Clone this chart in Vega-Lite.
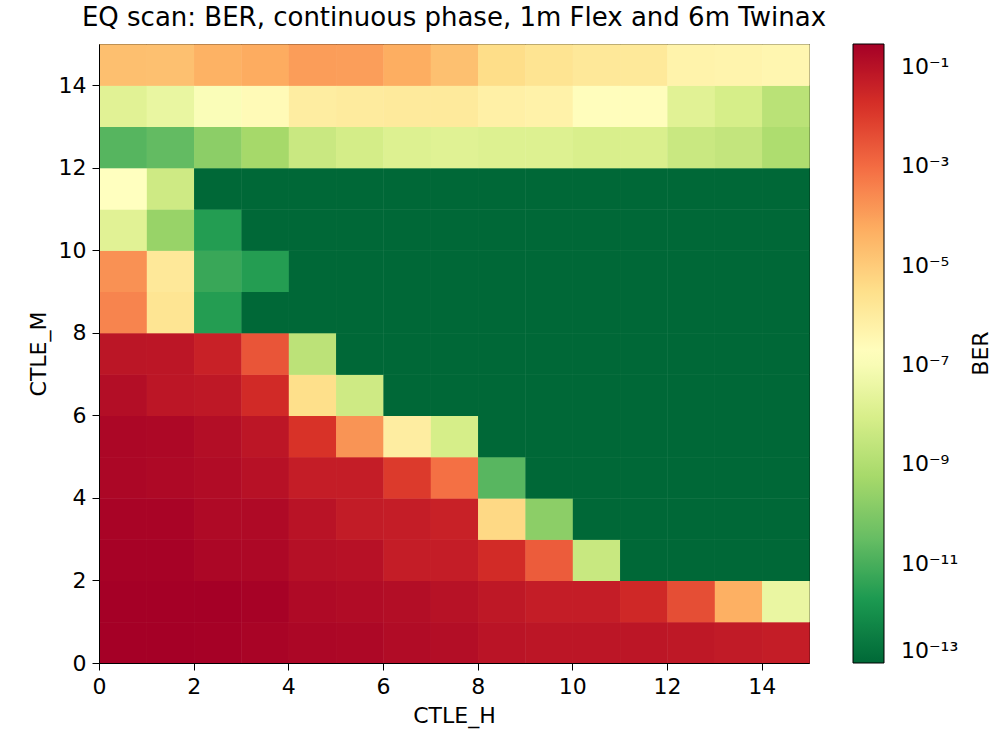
{
  "$schema": "https://vega.github.io/schema/vega-lite/v6.json",
  "width": 710,
  "height": 619,
  "autosize": {"type": "none"},
  "padding": {"left": 99, "top": 44, "right": 195, "bottom": 71},
  "title": {
    "text": "EQ scan: BER, continuous phase, 1m Flex and 6m Twinax",
    "fontSize": 26,
    "font": "DejaVu Sans",
    "fontWeight": "normal",
    "color": "black",
    "baseline": "alphabetic",
    "offset": -8,
    "anchor": "middle"
  },
  "datasets": {
    "cells": [
      {"h":0,"m":0,"ber":0.2884},{"h":1,"m":0,"ber":0.2884},{"h":2,"m":0,"ber":0.2723},{"h":3,"m":0,"ber":0.229},{"h":4,"m":0,"ber":0.1905},{"h":5,"m":0,"ber":0.1778},{"h":6,"m":0,"ber":0.1445},{"h":7,"m":0,"ber":0.1259},{"h":8,"m":0,"ber":0.0871},{"h":9,"m":0,"ber":0.0776},{"h":10,"m":0,"ber":0.0776},{"h":11,"m":0,"ber":0.0776},{"h":12,"m":0,"ber":0.0692},{"h":13,"m":0,"ber":0.0575},{"h":14,"m":0,"ber":0.0501},
      {"h":0,"m":1,"ber":0.2884},{"h":1,"m":1,"ber":0.2884},{"h":2,"m":1,"ber":0.2884},{"h":3,"m":1,"ber":0.257},{"h":4,"m":1,"ber":0.1585},{"h":5,"m":1,"ber":0.1445},{"h":6,"m":1,"ber":0.1259},{"h":7,"m":1,"ber":0.1},{"h":8,"m":1,"ber":0.0692},{"h":9,"m":1,"ber":0.0501},{"h":10,"m":1,"ber":0.0501},{"h":11,"m":1,"ber":0.0263},{"h":12,"m":1,"ber":0.00398},{"h":13,"m":1,"ber":4.68e-5},{"h":14,"m":1,"ber":3.47e-8},
      {"h":0,"m":2,"ber":0.257},{"h":1,"m":2,"ber":0.257},{"h":2,"m":2,"ber":0.1905},{"h":3,"m":2,"ber":0.1778},{"h":4,"m":2,"ber":0.1122},{"h":5,"m":2,"ber":0.1023},{"h":6,"m":2,"ber":0.0501},{"h":7,"m":2,"ber":0.0501},{"h":8,"m":2,"ber":0.0219},{"h":9,"m":2,"ber":0.00209},{"h":10,"m":2,"ber":3.72e-9},{"h":11,"m":2,"ber":1e-13},{"h":12,"m":2,"ber":1e-13},{"h":13,"m":2,"ber":1e-13},{"h":14,"m":2,"ber":1e-13},
      {"h":0,"m":3,"ber":0.229},{"h":1,"m":3,"ber":0.229},{"h":2,"m":3,"ber":0.1585},{"h":3,"m":3,"ber":0.1585},{"h":4,"m":3,"ber":0.0912},{"h":5,"m":3,"ber":0.055},{"h":6,"m":3,"ber":0.0501},{"h":7,"m":3,"ber":0.0398},{"h":8,"m":3,"ber":4.37e-6},{"h":9,"m":3,"ber":1.7e-10},{"h":10,"m":3,"ber":1e-13},{"h":11,"m":3,"ber":1e-13},{"h":12,"m":3,"ber":1e-13},{"h":13,"m":3,"ber":1e-13},{"h":14,"m":3,"ber":1e-13},
      {"h":0,"m":4,"ber":0.1905},{"h":1,"m":4,"ber":0.1698},{"h":2,"m":4,"ber":0.1445},{"h":3,"m":4,"ber":0.1023},{"h":4,"m":4,"ber":0.0501},{"h":5,"m":4,"ber":0.0501},{"h":6,"m":4,"ber":0.0102},{"h":7,"m":4,"ber":8.13e-4},{"h":8,"m":4,"ber":1.86e-11},{"h":9,"m":4,"ber":1e-13},{"h":10,"m":4,"ber":1e-13},{"h":11,"m":4,"ber":1e-13},{"h":12,"m":4,"ber":1e-13},{"h":13,"m":4,"ber":1e-13},{"h":14,"m":4,"ber":1e-13},
      {"h":0,"m":5,"ber":0.1905},{"h":1,"m":5,"ber":0.1778},{"h":2,"m":5,"ber":0.1259},{"h":3,"m":5,"ber":0.0776},{"h":4,"m":5,"ber":0.0148},{"h":5,"m":5,"ber":1.66e-4},{"h":6,"m":5,"ber":8.9e-7},{"h":7,"m":5,"ber":7.94e-9},{"h":8,"m":5,"ber":1e-13},{"h":9,"m":5,"ber":1e-13},{"h":10,"m":5,"ber":1e-13},{"h":11,"m":5,"ber":1e-13},{"h":12,"m":5,"ber":1e-13},{"h":13,"m":5,"ber":1e-13},{"h":14,"m":5,"ber":1e-13},
      {"h":0,"m":6,"ber":0.1259},{"h":1,"m":6,"ber":0.0776},{"h":2,"m":6,"ber":0.0692},{"h":3,"m":6,"ber":0.0234},{"h":4,"m":6,"ber":3.02e-6},{"h":5,"m":6,"ber":5.13e-9},{"h":6,"m":6,"ber":1e-13},{"h":7,"m":6,"ber":1e-13},{"h":8,"m":6,"ber":1e-13},{"h":9,"m":6,"ber":1e-13},{"h":10,"m":6,"ber":1e-13},{"h":11,"m":6,"ber":1e-13},{"h":12,"m":6,"ber":1e-13},{"h":13,"m":6,"ber":1e-13},{"h":14,"m":6,"ber":1e-13},
      {"h":0,"m":7,"ber":0.0794},{"h":1,"m":7,"ber":0.0776},{"h":2,"m":7,"ber":0.0398},{"h":3,"m":7,"ber":0.00282},{"h":4,"m":7,"ber":1.86e-9},{"h":5,"m":7,"ber":1e-13},{"h":6,"m":7,"ber":1e-13},{"h":7,"m":7,"ber":1e-13},{"h":8,"m":7,"ber":1e-13},{"h":9,"m":7,"ber":1e-13},{"h":10,"m":7,"ber":1e-13},{"h":11,"m":7,"ber":1e-13},{"h":12,"m":7,"ber":1e-13},{"h":13,"m":7,"ber":1e-13},{"h":14,"m":7,"ber":1e-13},
      {"h":0,"m":8,"ber":3.39e-4},{"h":1,"m":8,"ber":1.91e-6},{"h":2,"m":8,"ber":2.57e-12},{"h":3,"m":8,"ber":1e-13},{"h":4,"m":8,"ber":1e-13},{"h":5,"m":8,"ber":1e-13},{"h":6,"m":8,"ber":1e-13},{"h":7,"m":8,"ber":1e-13},{"h":8,"m":8,"ber":1e-13},{"h":9,"m":8,"ber":1e-13},{"h":10,"m":8,"ber":1e-13},{"h":11,"m":8,"ber":1e-13},{"h":12,"m":8,"ber":1e-13},{"h":13,"m":8,"ber":1e-13},{"h":14,"m":8,"ber":1e-13},
      {"h":0,"m":9,"ber":1.91e-4},{"h":1,"m":9,"ber":1.41e-6},{"h":2,"m":9,"ber":5.75e-12},{"h":3,"m":9,"ber":2.57e-12},{"h":4,"m":9,"ber":1e-13},{"h":5,"m":9,"ber":1e-13},{"h":6,"m":9,"ber":1e-13},{"h":7,"m":9,"ber":1e-13},{"h":8,"m":9,"ber":1e-13},{"h":9,"m":9,"ber":1e-13},{"h":10,"m":9,"ber":1e-13},{"h":11,"m":9,"ber":1e-13},{"h":12,"m":9,"ber":1e-13},{"h":13,"m":9,"ber":1e-13},{"h":14,"m":9,"ber":1e-13},
      {"h":0,"m":10,"ber":1.7e-8},{"h":1,"m":10,"ber":2.95e-10},{"h":2,"m":10,"ber":2.51e-12},{"h":3,"m":10,"ber":1e-13},{"h":4,"m":10,"ber":1e-13},{"h":5,"m":10,"ber":1e-13},{"h":6,"m":10,"ber":1e-13},{"h":7,"m":10,"ber":1e-13},{"h":8,"m":10,"ber":1e-13},{"h":9,"m":10,"ber":1e-13},{"h":10,"m":10,"ber":1e-13},{"h":11,"m":10,"ber":1e-13},{"h":12,"m":10,"ber":1e-13},{"h":13,"m":10,"ber":1e-13},{"h":14,"m":10,"ber":1e-13},
      {"h":0,"m":11,"ber":1.7e-7},{"h":1,"m":11,"ber":5.13e-9},{"h":2,"m":11,"ber":1e-13},{"h":3,"m":11,"ber":1e-13},{"h":4,"m":11,"ber":1e-13},{"h":5,"m":11,"ber":1e-13},{"h":6,"m":11,"ber":1e-13},{"h":7,"m":11,"ber":1e-13},{"h":8,"m":11,"ber":1e-13},{"h":9,"m":11,"ber":1e-13},{"h":10,"m":11,"ber":1e-13},{"h":11,"m":11,"ber":1e-13},{"h":12,"m":11,"ber":1e-13},{"h":13,"m":11,"ber":1e-13},{"h":14,"m":11,"ber":1e-13},
      {"h":0,"m":12,"ber":1.7e-11},{"h":1,"m":12,"ber":2.75e-11},{"h":2,"m":12,"ber":1.7e-10},{"h":3,"m":12,"ber":5.5e-10},{"h":4,"m":12,"ber":3.89e-9},{"h":5,"m":12,"ber":7.24e-9},{"h":6,"m":12,"ber":1.35e-8},{"h":7,"m":12,"ber":1.58e-8},{"h":8,"m":12,"ber":1.32e-8},{"h":9,"m":12,"ber":1.35e-8},{"h":10,"m":12,"ber":1e-8},{"h":11,"m":12,"ber":1.05e-8},{"h":12,"m":12,"ber":3.89e-9},{"h":13,"m":12,"ber":2.75e-9},{"h":14,"m":12,"ber":8.71e-10},
      {"h":0,"m":13,"ber":1.7e-8},{"h":1,"m":13,"ber":3.24e-8},{"h":2,"m":13,"ber":1.15e-7},{"h":3,"m":13,"ber":2.69e-7},{"h":4,"m":13,"ber":8.9e-7},{"h":5,"m":13,"ber":1.07e-6},{"h":6,"m":13,"ber":1.17e-6},{"h":7,"m":13,"ber":1.17e-6},{"h":8,"m":13,"ber":6.76e-7},{"h":9,"m":13,"ber":5.62e-7},{"h":10,"m":13,"ber":2.04e-7},{"h":11,"m":13,"ber":2.04e-7},{"h":12,"m":13,"ber":1.7e-8},{"h":13,"m":13,"ber":7.94e-9},{"h":14,"m":13,"ber":1.7e-9},
      {"h":0,"m":14,"ber":2.0e-5},{"h":1,"m":14,"ber":1.86e-5},{"h":2,"m":14,"ber":4.17e-5},{"h":3,"m":14,"ber":5.75e-5},{"h":4,"m":14,"ber":1.12e-4},{"h":5,"m":14,"ber":1.07e-4},{"h":6,"m":14,"ber":5.25e-5},{"h":7,"m":14,"ber":1.86e-5},{"h":8,"m":14,"ber":3.39e-6},{"h":9,"m":14,"ber":2.04e-6},{"h":10,"m":14,"ber":1.41e-6},{"h":11,"m":14,"ber":1.32e-6},{"h":12,"m":14,"ber":5.13e-7},{"h":13,"m":14,"ber":4.68e-7},{"h":14,"m":14,"ber":3.98e-7}
    ]
  },
  "layer": [
    {
      "data": {"name": "cells"},
      "mark": {"type": "rect"},
      "encoding": {
        "x": {
          "field": "h",
          "type": "quantitative",
          "bin": {"binned": true, "step": 1},
          "title": "CTLE_H",
          "scale": {"domain": [0, 15], "nice": false, "zero": false},
          "axis": {"values": [0, 2, 4, 6, 8, 10, 12, 14], "format": "d", "labelFlush": false}
        },
        "y": {
          "field": "m",
          "type": "quantitative",
          "bin": {"binned": true, "step": 1},
          "title": "CTLE_M",
          "scale": {"domain": [0, 15], "nice": false, "zero": false},
          "axis": {"values": [0, 2, 4, 6, 8, 10, 12, 14], "format": "d", "labelFlush": false}
        },
        "color": {
          "field": "ber",
          "type": "quantitative",
          "scale": {
            "type": "log",
            "domain": [1e-13, 1.762e-12, 3.105e-11, 5.47e-10, 9.64e-9, 1.698e-7, 2.992e-6, 5.27e-5, 9.29e-4, 1.637e-2, 0.2884],
            "range": ["#006837", "#1a9850", "#66bd63", "#a6d96a", "#d9ef8b", "#ffffbf", "#fee08b", "#fdae61", "#f46d43", "#d73027", "#a50026"],
            "interpolate": "rgb",
            "clamp": true
          },
          "legend": {
            "type": "gradient",
            "title": null,
            "orient": "right",
            "offset": 44,
            "padding": 0,
            "direction": "vertical",
            "gradientLength": 619,
            "gradientThickness": 31,
            "gradientStrokeColor": "black",
            "gradientStrokeWidth": 1,
            "labelFontSize": 22,
            "labelFont": "DejaVu Sans",
            "labelColor": "black",
            "labelOffset": 17,
            "labelOverlap": false,
            "values": [1e-13, 1e-11, 1e-9, 1e-7, 1e-5, 1e-3, 1e-1],
            "labelExpr": "datum.value > 0.05 ? '10⁻¹' : datum.value > 5e-4 ? '10⁻³' : datum.value > 5e-6 ? '10⁻⁵' : datum.value > 5e-8 ? '10⁻⁷' : datum.value > 5e-10 ? '10⁻⁹' : datum.value > 5e-12 ? '10⁻¹¹' : '10⁻¹³'"
          }
        }
      }
    },
    {
      "data": {"name": "cells"},
      "mark": {"type": "rect"},
      "encoding": {
        "x": {"field": "h", "type": "quantitative", "bin": {"binned": true, "step": 1}, "title": "CTLE_H"},
        "y": {"field": "m", "type": "quantitative", "bin": {"binned": true, "step": 1}, "title": "CTLE_M"},
        "color": {"field": "ber", "type": "quantitative"}
      }
    },
    {
      "data": {"values": [{"label": "BER"}]},
      "mark": {"type": "text", "angle": 270, "align": "center", "baseline": "middle", "fontSize": 22, "font": "DejaVu Sans", "color": "black"},
      "encoding": {
        "text": {"field": "label", "type": "nominal"},
        "x": {"datum": 18.63, "type": "quantitative", "title": "CTLE_H"},
        "y": {"datum": 7.5, "type": "quantitative", "title": "CTLE_M"}
      }
    }
  ],
  "config": {
    "font": "DejaVu Sans",
    "view": {"stroke": "black", "strokeWidth": 1},
    "axis": {
      "grid": false,
      "labelFont": "DejaVu Sans",
      "titleFont": "DejaVu Sans",
      "labelFontSize": 22,
      "titleFontSize": 22,
      "titleFontWeight": "normal",
      "labelColor": "black",
      "titleColor": "black",
      "tickColor": "black",
      "domainColor": "black",
      "tickSize": 7,
      "labelPadding": 6,
      "titlePadding": 8
    }
  }
}
